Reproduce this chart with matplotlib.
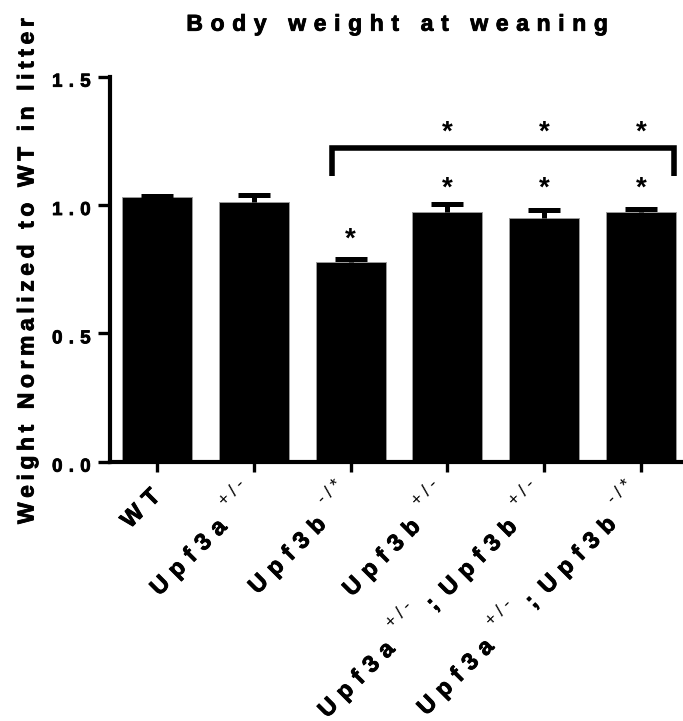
import matplotlib
matplotlib.use("Agg")
import matplotlib.pyplot as plt
import matplotlib.transforms as mtransforms
import matplotlib.patheffects as pe
from matplotlib.font_manager import FontProperties
import numpy as np

# ---------------- data ----------------
groups = ["WT", "Upf3a+/-", "Upf3b-/*", "Upf3b+/-",
          "Upf3a+/-;Upf3b+/-", "Upf3a+/-;Upf3b-/*"]
means = [1.030, 1.013, 0.778, 0.972, 0.948, 0.974]
sems = [0.006, 0.025, 0.012, 0.033, 0.033, 0.009]
# tick label pieces: (text, is_superscript)
label_parts = [
    [("WT", False)],
    [("Upf3a", False), ("+/-", True)],
    [("Upf3b", False), ("-/*", True)],
    [("Upf3b", False), ("+/-", True)],
    [("Upf3a", False), ("+/-", True), (";", False), ("Upf3b", False), ("+/-", True)],
    [("Upf3a", False), ("+/-", True), (";", False), ("Upf3b", False), ("-/*", True)],
]
yticks = [0.0, 0.5, 1.0, 1.5]
ytick_labels = ["0.0", "0.5", "1.0", "1.5"]
star_x = [2, 3, 4, 5, 3, 4, 5]
star_y = [0.886, 1.085, 1.085, 1.085, 1.30, 1.30, 1.30]
bracket_x = [1.81, 5.34]
bracket_top = 1.221
bracket_bottom = 1.114
title = "Body weight at weaning"
ylabel = "Weight Normalized to WT in litter"

# ---------------- style ----------------
FAM = ["Liberation Sans", "DejaVu Sans"]
plt.rcParams["font.family"] = FAM
plt.rcParams["font.weight"] = "bold"
HEAVY = [pe.withStroke(linewidth=0.6, foreground="black")]


def track(s, sp):
    return sp.join(s)


W, H = 683, 721
fig = plt.figure(figsize=(W / 100, H / 100), dpi=100)
ax_left, ax_right, y0_px, ytop_px = 110, 683, 461.7, 76.7
ax = fig.add_axes([ax_left / W, 1 - y0_px / H,
                   (ax_right - ax_left) / W, (y0_px - ytop_px) / H])
ax.set_xlim(-0.489, 5.436)
ax.set_ylim(0, 1.5)

x = np.arange(len(groups))
ax.bar(x, means, width=0.724, color="black", edgecolor="#9a9a9a",
       linewidth=0.7, zorder=2)
tops = np.array(means) + np.array(sems)
ax.vlines(x, means, tops, colors="black", linewidth=3.6, zorder=3)
ax.plot(x, tops, ls="none", marker="_", markersize=23, mew=3.6,
        color="black", zorder=3)

# significance bracket
ax.plot([bracket_x[0], bracket_x[0], bracket_x[1], bracket_x[1]],
        [bracket_bottom, bracket_top, bracket_top, bracket_bottom],
        color="black", lw=4, solid_joinstyle="miter", solid_capstyle="butt",
        zorder=3, clip_on=False)

# stars
star_fs = 20
for sx, sy in zip(star_x, star_y):
    tr = mtransforms.offset_copy(ax.transData, fig=fig, x=0,
                                 y=-0.43 * star_fs, units="points")
    ax.text(sx, sy, "*", transform=tr, ha="center", va="baseline",
            fontsize=star_fs, fontweight="bold", clip_on=False)

# axes styling
for side in ["top", "right"]:
    ax.spines[side].set_visible(False)
for side in ["left", "bottom"]:
    ax.spines[side].set_linewidth(3.0)
ax.set_yticks(yticks)
ax.set_yticklabels([track(s, "\u2004") for s in ytick_labels],
                   fontsize=13.5, fontweight="bold")
ax.tick_params(axis="y", direction="out", length=9, width=2.4, pad=5)
shift = mtransforms.ScaledTranslation(0, -2.5 / 72, fig.dpi_scale_trans)
for lab in ax.get_yticklabels():
    lab.set_transform(lab.get_transform() + shift)
    lab.set_path_effects(HEAVY)
ax.set_xticks(x)
ax.set_xticklabels([""] * len(x))
ax.tick_params(axis="x", direction="out", length=7, width=2.4)

# title and y label
fig.text(396.5 / W, 1 - 30.7 / H, track(title, "\u2004"), ha="center",
         va="baseline", fontsize=16.5, fontweight="bold", path_effects=HEAVY)
fig.text(27 / W, 1 - 271 / H, track(ylabel, "\u2009"), rotation=90,
         ha="center", va="center", fontsize=16.5, fontweight="bold",
         path_effects=HEAVY)

# x tick labels (rotated, with superscripts)
main_fp = FontProperties(family=FAM, weight="bold", size=17)
sup_fp = FontProperties(family=FAM, weight="normal", size=13)
sp_main = "\u2004"
sp_sup = "\u2005"
gap = 12.0
sup_raise = 17.0
Bx, By = 4.0, -36.0
ang = np.deg2rad(45)
c, s_ = np.cos(ang), np.sin(ang)
renderer = fig.canvas.get_renderer()
base_tr = ax.get_xaxis_transform()
for i, parts in enumerate(label_parts):
    strs, fps, widths = [], [], []
    for txt, sup in parts:
        fp = sup_fp if sup else main_fp
        st = track(txt, sp_sup if sup else sp_main)
        w, h, d = renderer.get_text_width_height_descent(st, fp, ismath=False)
        strs.append(st)
        fps.append(fp)
        widths.append(w)
    L = sum(widths) + gap * (len(parts) - 1)
    a = 0.0
    for k, (txt, sup) in enumerate(parts):
        along = a - L
        perp = sup_raise if sup else 0.0
        dx = Bx + along * c - perp * s_
        dy = By + along * s_ + perp * c
        tr = mtransforms.offset_copy(base_tr, fig=fig, x=dx, y=dy, units="dots")
        ax.text(x[i], 0, strs[k], transform=tr, rotation=45,
                rotation_mode="anchor", ha="left", va="baseline",
                fontproperties=fps[k], clip_on=False,
                path_effects=None if sup else HEAVY)
        a += widths[k] + gap

fig.savefig("out.png", dpi=100)
